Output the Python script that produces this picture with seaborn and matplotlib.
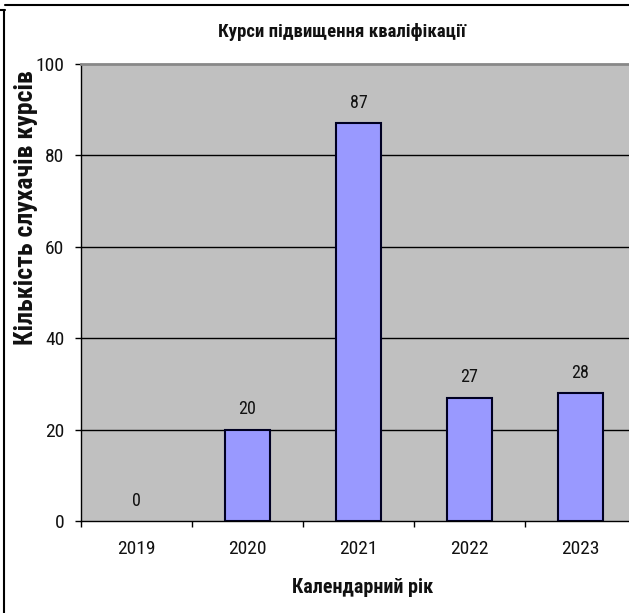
import matplotlib
matplotlib.use("Agg")
import matplotlib.pyplot as plt
from matplotlib import font_manager
from matplotlib.lines import Line2D
import seaborn as sns
import pandas as pd

years = ["2019", "2020", "2021", "2022", "2023"]
counts = [0, 20, 87, 27, 28]
yticks = [0, 20, 40, 60, 80, 100]
title = "Курси підвищення кваліфікації"
xlabel = "Календарний рік"
ylabel = "Кількість слухачів курсів"

fonts = font_manager.fontManager.ttflist
names = {f.name for f in fonts}
family = "Liberation Sans"
stretch = "normal"
for cand in ["Liberation Sans Narrow", "Arial Narrow", "Roboto Condensed", "Open Sans Condensed"]:
    if cand in names:
        family = cand
        break
else:
    for f in fonts:
        if f.name in ("Roboto", "Open Sans", "DejaVu Sans", "Noto Sans") and str(f.stretch) in ("condensed", "semi-condensed", "75", "87"):
            family = f.name
            stretch = "condensed"
            break

sns.set_theme(style="white")
plt.rcParams["font.family"] = [family, "DejaVu Sans"]
plt.rcParams["font.stretch"] = stretch

df = pd.DataFrame({"year": years, "count": counts})

W, H = 629, 613
fig = plt.figure(figsize=(W / 100, H / 100), dpi=100)
fig.patch.set_facecolor("white")
ax = fig.add_axes([81 / W, 1 - 521 / H, (636 - 81) / W, (521 - 64) / H])
ax.set_facecolor("#C0C0C0")

sns.barplot(data=df, x="year", y="count", ax=ax, color="#9999FF", saturation=1,
            width=0.4, edgecolor="#000022", linewidth=1.5, zorder=3)
for p in ax.patches:
    if p.get_height() == 0:
        p.set_linewidth(0)

ax.set_ylim(0, 100)
ax.set_xlim(-0.5, 4.5)
ax.set_yticks(yticks)
ax.set_yticklabels([str(v) for v in yticks], fontsize=14, color="#111111")
ax.set_xticks(range(len(years)))
ax.set_xticklabels(years, fontsize=14, color="#111111")
ax.set_xticks([i - 0.5 for i in range(len(years) + 1)], minor=True)
ax.tick_params(axis="x", which="major", length=0, pad=14)
ax.tick_params(axis="x", which="minor", length=4, width=1, color="black", direction="out", bottom=True)
ax.tick_params(axis="y", length=4, width=1, color="black", direction="out", left=True, pad=8)

for y in yticks[1:-1]:
    ax.axhline(y, color="black", linewidth=1, zorder=1)

for s in ["left", "bottom"]:
    ax.spines[s].set_color("black")
    ax.spines[s].set_linewidth(1)
ax.spines["top"].set_color("#888888")
ax.spines["top"].set_linewidth(2)
ax.spines["right"].set_visible(False)

for c in ax.containers:
    ax.bar_label(c, labels=[str(v) for v in counts], padding=8, fontsize=13, color="#111111")

ax.set_xlabel(xlabel, fontsize=14.5, fontweight="bold", color="#111111")
ax.xaxis.set_label_coords((363 - 81) / 555, (521 - 578) / 457)
ax.set_ylabel(ylabel, fontsize=18.5, fontweight="bold", color="#111111")
ax.yaxis.set_label_coords((38 - 81) / 555, (521 - 208) / 457)

fig.text(342 / W, 1 - 32 / H, title, ha="center", va="center", fontsize=13.5,
         fontweight="bold", color="#111111")

fig.add_artist(Line2D([5 / W, 1], [1 - 5 / H, 1 - 5 / H], transform=fig.transFigure, color="black", linewidth=1.5))
fig.add_artist(Line2D([4 / W, 4 / W], [1 - 10 / H, 0], transform=fig.transFigure, color="black", linewidth=1.5))
fig.add_artist(Line2D([0, 5 / W], [1 - 10 / H, 1 - 10 / H], transform=fig.transFigure, color="black", linewidth=1.5))

fig.savefig("out.png", dpi=100)
